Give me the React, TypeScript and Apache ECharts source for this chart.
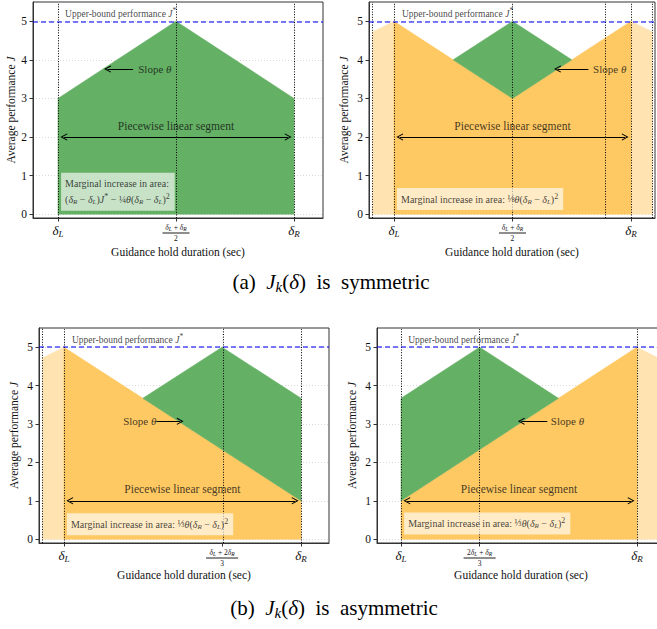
import React, { useEffect, useRef } from 'react';
import * as echarts from 'echarts';

const FONT = '"Liberation Serif", "DejaVu Serif", "Times New Roman", serif';
const GREEN = '#64b064';
const ORANGE = '#fec862';
const LIGHT = '#ffe3b1';
const INK = '#111';

// ---- shared values ----
const Y_TICKS = [0, 1, 2, 3, 4, 5];
const J_STAR = 5;

// ---- (a) symmetric, left panel ----
const A1_TICKS = [0, 0.5, 1];
const A1_TICK_LABELS = ['{d|δ}{ds|L}', '{n|δ}{ns|L}{nr| + }{n|δ}{ns|R}\n{hr|}\n{nr|2}', '{d|δ}{ds|R}'];
const A1_GREEN = [[0, 0], [0, 3], [0.5, 5], [1, 3], [1, 0]];
const A1_VLINES = [0, 0.5, 1];

// ---- (a) symmetric, right panel ----
const A2_TICKS = [0, 0.5, 1];
const A2_TICK_LABELS = A1_TICK_LABELS;
const A2_LIGHT_L = [[-0.09, 0], [-0.09, 4.72], [0, 5], [0, 0]];
const A2_LIGHT_R = [[1, 0], [1, 5], [1.09, 4.72], [1.09, 0]];
const A2_ORANGE = [[0, 0], [0, 5], [0.5, 3], [1, 5], [1, 0]];
const A2_GREEN = [[0.25, 4], [0.5, 5], [0.75, 4], [0.5, 3]];
const A2_VLINES = [-0.09, 0, 0.5, 0.89, 1, 1.09];

// ---- (b) asymmetric, left panel ----
const B1_TICKS = [0, 0.667, 1];
const B1_TICK_LABELS = ['{d|δ}{ds|L}', '{n|δ}{ns|L}{nr| + 2}{n|δ}{ns|R}\n{hr3|}\n{nr|3}', '{d|δ}{ds|R}'];
const B1_LIGHT_L = [[-0.09, 0], [-0.09, 4.72], [0, 5], [0, 0]];
const B1_ORANGE = [[0, 0], [0, 5], [1, 1], [1, 0]];
const B1_GREEN = [[0.333, 3.67], [0.667, 5], [1, 3.67], [1, 1]];
const B1_VLINES = [-0.09, 0, 0.667, 1];

// ---- (b) asymmetric, right panel ----
const B2_TICKS = [0, 0.333, 1];
const B2_TICK_LABELS = ['{d|δ}{ds|L}', '{nr|2}{n|δ}{ns|L}{nr| + }{n|δ}{ns|R}\n{hr3|}\n{nr|3}', '{d|δ}{ds|R}'];
const B2_LIGHT_R = [[1, 0], [1, 5], [1.09, 4.72], [1.09, 0]];
const B2_ORANGE = [[0, 0], [0, 1], [1, 5], [1, 0]];
const B2_GREEN = [[0, 1], [0, 3.67], [0.333, 5], [0.667, 3.67]];
const B2_VLINES = [0, 0.333, 1, 1.09];

// ---- texts ----
const UPPER_TEXT = 'Upper-bound performance {i|J}{p|*}';
const SLOPE_TEXT = 'Slope {i|θ}';
const SEGMENT_TEXT = 'Piecewise linear segment';
const AREA_A1 = 'Marginal increase in area:\n({i|δ}{s|R} − {i|δ}{s|L}){i|J}{p|*} − {f|¼}{i|θ}({i|δ}{s|R} − {i|δ}{s|L}){p|2}';
const AREA_A2 = 'Marginal increase in area: {f|⅛}{i|θ}({i|δ}{s|R} − {i|δ}{s|L}){p|2}';
const AREA_B = 'Marginal increase in area: {f|⅓}{i|θ}({i|δ}{s|R} − {i|δ}{s|L}){p|2}';

const PANELS = [
  {
    grid: { left: 33, top: 2, width: 290, height: 216 }, xr: [-0.106, 1.123], yGap: 16, xGap: 28,
    ticks: A1_TICKS, tickLabels: A1_TICK_LABELS, vlines: A1_VLINES,
    polys: [{ pts: A1_GREEN, color: GREEN, z: 4 }],
    upper: [0.03, 5.2],
    slope: { from: [0.318, 3.76], to: [0.21, 3.76], text: [0.34, 3.76] },
    seg: { text: [0.5, 2.28], y: 2 },
    area: { pos: [0.013, 0.58], text: AREA_A1 },
  },
  {
    grid: { left: 369, top: 2, width: 286, height: 216 }, xr: [-0.105, 1.101], yGap: 19, xGap: 28,
    ticks: A2_TICKS, tickLabels: A2_TICK_LABELS, vlines: A2_VLINES,
    polys: [
      { pts: A2_LIGHT_L, color: LIGHT, z: 2 },
      { pts: A2_LIGHT_R, color: LIGHT, z: 2 },
      { pts: A2_ORANGE, color: ORANGE, z: 3 },
      { pts: A2_GREEN, color: GREEN, z: 4 },
    ],
    upper: [0.034, 5.2],
    slope: { from: [0.82, 3.76], to: [0.69, 3.76], text: [0.84, 3.76] },
    seg: { text: [0.5, 2.28], y: 2 },
    area: { pos: [0.013, 0.39], text: AREA_A2 },
  },
  {
    grid: { left: 39, top: 328, width: 290, height: 215 }, xr: [-0.105, 1.118], yGap: 19, xGap: 26,
    ticks: B1_TICKS, tickLabels: B1_TICK_LABELS, vlines: B1_VLINES,
    polys: [
      { pts: B1_LIGHT_L, color: LIGHT, z: 2 },
      { pts: B1_ORANGE, color: ORANGE, z: 3 },
      { pts: B1_GREEN, color: GREEN, z: 4 },
    ],
    upper: [0.034, 5.2],
    slope: { from: [0.39, 3.07], to: [0.49, 3.07], text: [0.25, 3.07] },
    seg: { text: [0.5, 1.3], y: 1 },
    area: { pos: [0.013, 0.39], text: AREA_B },
  },
  {
    grid: { left: 377, top: 328, width: 288, height: 215 }, xr: [-0.102, 1.119], yGap: 19, xGap: 26,
    ticks: B2_TICKS, tickLabels: B2_TICK_LABELS, vlines: B2_VLINES,
    polys: [
      { pts: B2_LIGHT_R, color: LIGHT, z: 2 },
      { pts: B2_ORANGE, color: ORANGE, z: 3 },
      { pts: B2_GREEN, color: GREEN, z: 4 },
    ],
    upper: [0.03, 5.2],
    slope: { from: [0.62, 3.07], to: [0.51, 3.07], text: [0.635, 3.07] },
    seg: { text: [0.5, 1.3], y: 1 },
    area: { pos: [0.013, 0.41], text: AREA_B },
  },
];

const HEAD = 'path://M5,0 L10,9 L8.8,9.7 L5,2.8 L1.2,9.7 L0,9 Z';

const MATH_RICH = (size: number) => ({
  i: { fontStyle: 'italic', fontFamily: FONT, fontSize: size, color: INK },
  s: { fontStyle: 'italic', fontFamily: FONT, fontSize: size * 0.7, color: INK, padding: [5, 0, 0, 0] },
  p: { fontFamily: FONT, fontSize: size * 0.8, color: INK, padding: [0, 0, 6, 0] },
  f: { fontFamily: FONT, fontSize: size * 0.95, color: INK },
});

const TICK_RICH = {
  d: { fontSize: 13, fontStyle: 'italic', fontFamily: FONT, color: INK, lineHeight: 14 },
  ds: { fontSize: 9, fontStyle: 'italic', fontFamily: FONT, color: INK, padding: [6, 0, 0, 0] },
  n: { fontSize: 7.5, fontStyle: 'italic', fontFamily: FONT, color: INK, lineHeight: 8 },
  ns: { fontSize: 5.5, fontStyle: 'italic', fontFamily: FONT, color: INK, padding: [3, 0, 0, 0] },
  nr: { fontSize: 7.5, fontFamily: FONT, color: INK, lineHeight: 8 },
  hr: { width: 27, height: 0, borderColor: '#222', borderWidth: 0.6, lineHeight: 2 },
  hr3: { width: 32, height: 0, borderColor: '#222', borderWidth: 0.6, lineHeight: 2 },
};

function textSeries(gi: number, pos: number[], text: string, opts: any) {
  const center = opts.align === 'center';
  return {
    type: 'scatter', xAxisIndex: gi, yAxisIndex: gi, z: 9, silent: true,
    symbolSize: 0, data: [pos], emphasis: { disabled: true },
    label: {
      show: true, formatter: text, position: center ? 'inside' : 'right', distance: 0,
      fontFamily: FONT, fontSize: opts.fontSize, color: INK, align: center ? 'center' : 'left',
      lineHeight: opts.lineHeight, backgroundColor: opts.bg, padding: opts.padding,
      rich: MATH_RICH(opts.fontSize),
    },
  };
}

function arrowSeries(gi: number, from: number[], to: number[], both: boolean) {
  return {
    type: 'lines', coordinateSystem: 'cartesian2d', xAxisIndex: gi, yAxisIndex: gi, z: 8, silent: true,
    symbol: both ? [HEAD, HEAD] : ['none', HEAD], symbolSize: 7,
    lineStyle: { color: '#000', width: 1, opacity: 1, curveness: 0 },
    data: [{ coords: [from, to] }],
  };
}

function polySeries(gi: number, pts: number[][], color: string, z: number) {
  return {
    type: 'custom', xAxisIndex: gi, yAxisIndex: gi, z, silent: true, data: pts,
    renderItem: (params: any, api: any) => {
      if (params.dataIndex !== 0) return null;
      const points = pts.map((p) => api.coord(p));
      return { type: 'polygon', shape: { points }, style: { fill: color, stroke: color, lineWidth: 0.6 } };
    },
  };
}

function buildOption() {
  const grid: any[] = [];
  const xAxis: any[] = [];
  const yAxis: any[] = [];
  const series: any[] = [];
  PANELS.forEach((p, gi) => {
    grid.push({ ...p.grid, show: true, borderColor: '#333', borderWidth: 1, backgroundColor: 'transparent', containLabel: false, outerBoundsMode: 'none' });
    const gridLine = { show: true, lineStyle: { color: '#cfcfcf', type: [1, 2], width: 0.8 } };
    xAxis.push({
      type: 'value', gridIndex: gi, min: p.xr[0], max: p.xr[1],
      axisLine: { show: true, onZero: false, lineStyle: { color: '#333' } },
      axisTick: { show: true, customValues: p.ticks, length: 3.5, lineStyle: { color: '#333' } },
      axisLabel: {
        show: true, customValues: p.ticks, margin: 5, color: INK, fontFamily: FONT,
        formatter: (v: number) => {
          let best = 0;
          p.ticks.forEach((t, k) => { if (Math.abs(t - v) < Math.abs(p.ticks[best] - v)) best = k; });
          return p.tickLabels[best];
        },
        rich: TICK_RICH,
      },
      splitLine: gridLine,
      name: 'Guidance hold duration (sec)', nameLocation: 'middle', nameGap: p.xGap,
      nameTextStyle: { fontFamily: FONT, fontSize: 11.5, color: INK },
    });
    yAxis.push({
      type: 'value', gridIndex: gi, min: -0.1, max: 5.5,
      axisLine: { show: true, onZero: false, lineStyle: { color: '#333' } },
      axisTick: { show: true, customValues: Y_TICKS, length: 3.5, lineStyle: { color: '#333' } },
      axisLabel: { show: true, customValues: Y_TICKS, margin: 6, fontFamily: FONT, fontSize: 11.5, color: INK },
      splitLine: gridLine,
      name: 'Average performance {i|J}', nameLocation: 'middle', nameGap: p.yGap, nameRotate: 90,
      nameTextStyle: { fontFamily: FONT, fontSize: 11.5, color: INK, rich: { i: { fontFamily: FONT, fontSize: 11.5, fontStyle: 'italic', color: INK } } },
    });
    p.polys.forEach((poly) => series.push(polySeries(gi, poly.pts, poly.color, poly.z)));
    series.push({
      type: 'line', xAxisIndex: gi, yAxisIndex: gi, data: [], z: 6, silent: true,
      markLine: {
        silent: true, symbol: 'none', label: { show: false }, animation: false,
        data: [
          ...p.vlines.map((v) => ({ xAxis: v, lineStyle: { color: '#000', type: [1, 1.6], width: 1 } })),
          { yAxis: J_STAR, lineStyle: { color: 'rgba(0,0,255,0.7)', type: [5, 3], width: 1.5 } },
        ],
      },
    });
    series.push(arrowSeries(gi, p.slope.from, p.slope.to, false));
    series.push(arrowSeries(gi, [0.025, p.seg.y], [0.975, p.seg.y], true));
    series.push(textSeries(gi, p.upper, UPPER_TEXT, { fontSize: 9.5 }));
    series.push(textSeries(gi, p.slope.text, SLOPE_TEXT, { fontSize: 11 }));
    series.push(textSeries(gi, p.seg.text, SEGMENT_TEXT, { fontSize: 11.5, align: 'center' }));
    series.push(textSeries(gi, p.area.pos, p.area.text, {
      fontSize: 10, lineHeight: 16, bg: 'rgba(255,255,255,0.8)', padding: [3, 5, 3, 4],
    }));
  });

  const capRich = {
    i: { fontFamily: FONT, fontSize: 21, fontStyle: 'italic', fill: '#000', color: '#000' },
    s: { fontFamily: FONT, fontSize: 15, fontStyle: 'italic', fill: '#000', color: '#000', padding: [9, 0, 0, 0] },
  };
  return {
    animation: false,
    textStyle: { fontFamily: FONT },
    grid, xAxis, yAxis, series,
    graphic: [
      { type: 'text', x: 331, y: 282, style: { text: '(a)  {i|J}{s|k}({i|δ})  is  symmetric', fontFamily: FONT, fontSize: 21, fill: '#000', align: 'center', verticalAlign: 'middle', rich: capRich } },
      { type: 'text', x: 334, y: 608, style: { text: '(b)  {i|J}{s|k}({i|δ})  is  asymmetric', fontFamily: FONT, fontSize: 21, fill: '#000', align: 'center', verticalAlign: 'middle', rich: capRich } },
    ],
  };
}

export default function App() {
  const ref = useRef<HTMLDivElement>(null);
  useEffect(() => {
    const chart = echarts.init(ref.current!, null, { renderer: 'svg' });
    chart.setOption(buildOption() as any);
    return () => chart.dispose();
  }, []);
  return <div ref={ref} style={{ position: 'fixed', left: 0, top: 0, width: 657, height: 629, background: '#fff' }} />;
}
